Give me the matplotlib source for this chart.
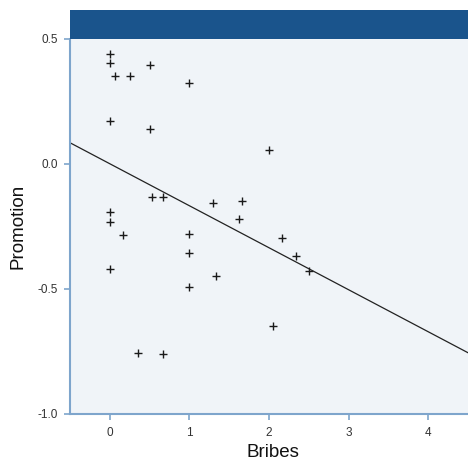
import numpy as np
import matplotlib.pyplot as plt

plt.rcParams["font.family"] = ["Liberation Sans", "DejaVu Sans"]

# values
bribes = [0, 0, 0.5, 0.07, 0.25, 1.0, 0, 0.5,
          0.535, 0.666, 1.3, 0, 0, 0.163, 1.0, 1.0, 0, 1.33, 1.0,
          0.35, 0.666,
          2.0, 1.666, 1.624, 2.168, 2.337, 2.504, 2.05]
promotion = [0.438, 0.403, 0.396, 0.352, 0.352, 0.322, 0.172, 0.140,
             -0.134, -0.134, -0.155, -0.191, -0.232, -0.285, -0.279, -0.357, -0.420, -0.450, -0.492,
             -0.754, -0.759,
             0.054, -0.147, -0.219, -0.295, -0.368, -0.427, -0.649]
xticks = [0, 1, 2, 3, 4]
yticks = [-1.0, -0.5, 0.0, 0.5]

band_color = "#1a548c"
spine_color = "#7ea5cc"
bg_color = "#f0f4f8"

W, H = 468, 468
fig = plt.figure(figsize=(W / 100, H / 100), dpi=100, facecolor="white")

# axes box in pixels: left 70, top 39, bottom 414, right beyond the crop
left, right, top, bottom = 70, 476, 39, 414
ax = fig.add_axes([left / W, 1 - bottom / H, (right - left) / W, (bottom - top) / H])
ax.set_facecolor(bg_color)

x0, x1 = -0.5, 4.6
ax.set_xlim(x0, x1)
ax.set_ylim(-1.0, 0.5)

# header band above the plot
band = fig.add_axes([left / W, 1 - top / H, (right - left) / W, (top - 10) / H])
band.set_facecolor(band_color)
band.set_xticks([])
band.set_yticks([])
for s in band.spines.values():
    s.set_visible(False)

ax.plot(bribes, promotion, ls="none", marker="+", ms=6, mew=1.0, color="#1a1a1a")

slope, intercept = np.polyfit(bribes, promotion, 1)
xs = np.array([x0, x1])
ax.plot(xs, intercept + slope * xs, color="#222222", lw=0.9)

ax.set_xticks(xticks)
ax.set_xticklabels([str(t) for t in xticks])
ax.set_yticks(yticks)
ax.set_yticklabels(["%.1f" % t for t in yticks])
ax.tick_params(direction="out", length=4, width=1.2, color=spine_color,
               labelsize=8.5, labelcolor="#333333", pad=5)

for side in ["top", "right"]:
    ax.spines[side].set_visible(False)
for side in ["left", "bottom"]:
    ax.spines[side].set_color(spine_color)
    ax.spines[side].set_linewidth(1.5)

ax.set_xlabel("Bribes", fontsize=13.5, color="#111111", labelpad=4)
ax.set_ylabel("Promotion", fontsize=13.5, color="#111111", labelpad=8)

fig.savefig("out.png", dpi=100, facecolor="white")
